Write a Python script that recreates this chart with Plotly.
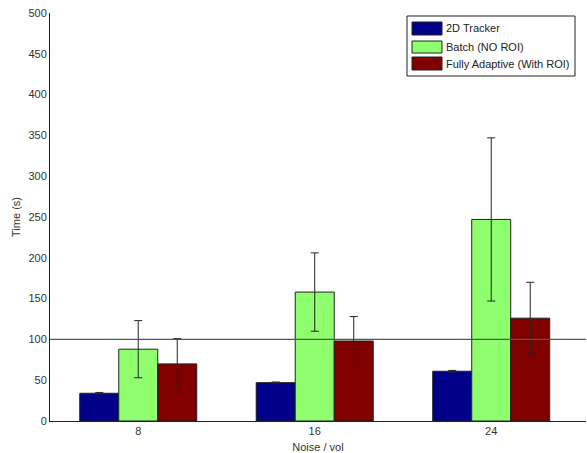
import plotly.graph_objects as go

categories = ["8", "16", "24"]
series_names = ["2D Tracker", "Batch (NO ROI)", "Fully Adaptive (With ROI)"]
tracker_vals = [34, 47, 61]
tracker_err = [1, 0.8, 1]
batch_vals = [88, 158, 247]
batch_err = [35, 48, 100]
adaptive_vals = [70, 98, 126]
adaptive_err = [31, 30, 44]
colors = ["#00008A", "#8FFF6F", "#800000"]
ref_line = 100

font = "Liberation Sans, Arial, sans-serif"

W, H = 587, 453
ml, mr, mt, mb = 50, 1, 13, 32
pw, ph = W - ml - mr, H - mt - mb
def px(x):
    return (x - ml) / pw
def py(y):
    return 1 - (y - mt) / ph

fig = go.Figure()
for name, vals, errs, col in zip(series_names,
                                  [tracker_vals, batch_vals, adaptive_vals],
                                  [tracker_err, batch_err, adaptive_err],
                                  colors):
    fig.add_trace(go.Bar(
        x=categories, y=vals, name=name,
        marker=dict(color=col, line=dict(color="#222222", width=1)),
        error_y=dict(type="data", array=errs, color="#222222", thickness=1, width=4),
        showlegend=False,
    ))

shapes = [dict(type="line", xref="paper", yref="y", x0=0, x1=1, y0=ref_line, y1=ref_line,
               line=dict(color="#555555", width=1.2), layer="above")]

# manual MATLAB-style legend box
lx0, lx1, ly0, ly1 = 407, 575, 16, 76
shapes.append(dict(type="rect", xref="paper", yref="paper",
                   x0=px(lx0), x1=px(lx1), y0=py(ly1), y1=py(ly0),
                   line=dict(color="#222222", width=1), fillcolor="white", layer="above"))
annotations = []
rows = [(22, 35), (41, 53), (57, 70)]
for (r0, r1), name, col in zip(rows, series_names, colors):
    shapes.append(dict(type="rect", xref="paper", yref="paper",
                       x0=px(412), x1=px(442), y0=py(r1), y1=py(r0),
                       line=dict(color="#222222", width=1), fillcolor=col, layer="above"))
    annotations.append(dict(xref="paper", yref="paper", x=px(444), y=py((r0 + r1) / 2),
                            text=name, showarrow=False, xanchor="left", yanchor="middle",
                            font=dict(family=font, size=11, color="#222222")))

fig.update_layout(
    width=W, height=H,
    margin=dict(l=ml, r=mr, t=mt, b=mb),
    paper_bgcolor="white", plot_bgcolor="white",
    barmode="group", bargap=0.337, bargroupgap=0,
    font=dict(family=font, size=11, color="#333333"),
    shapes=shapes, annotations=annotations,
    xaxis=dict(range=[-0.5, 2.537], showline=True, linecolor="#222222", linewidth=1,
               ticks="", showgrid=False, zeroline=False,
               title=dict(text="Noise / vol", font=dict(size=11), standoff=7),
               tickfont=dict(size=11)),
    yaxis=dict(range=[0, 500], dtick=50, showline=True, linecolor="#222222", linewidth=1,
               ticks="", showgrid=False, zeroline=False,
               title=dict(text="Time (s)", font=dict(size=11), standoff=5),
               tickfont=dict(size=11)),
)

fig.write_html("out.html")
